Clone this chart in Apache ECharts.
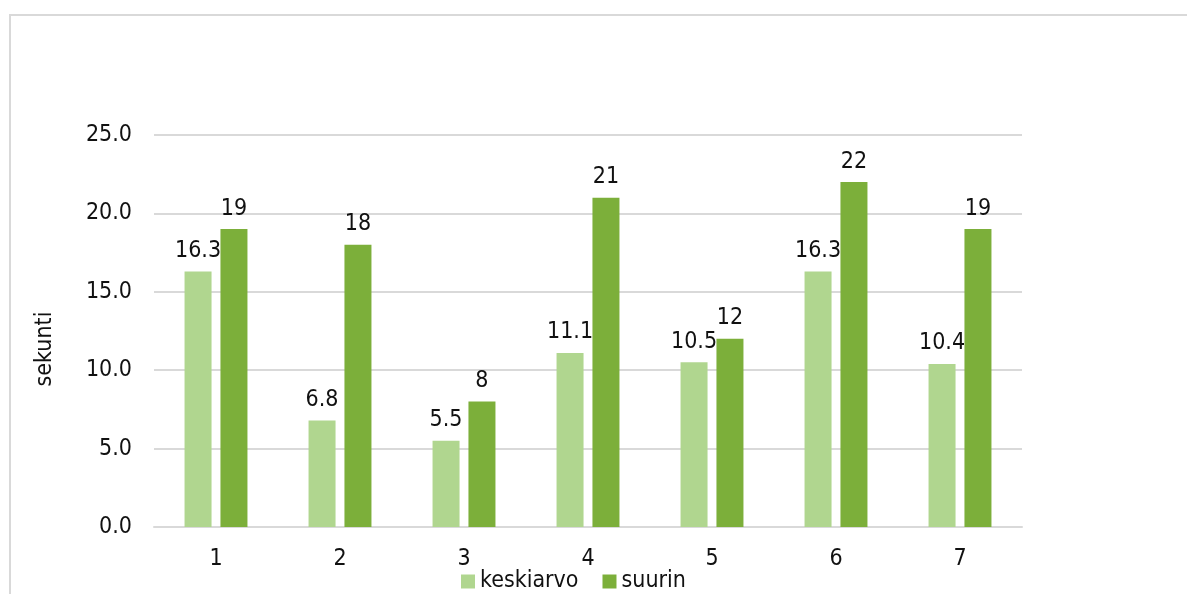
<!DOCTYPE html>
<html>
<head>
<meta charset="utf-8">
<script src="https://cdn.jsdelivr.net/npm/echarts@6/dist/echarts.min.js"></script>
<style>
  html, body { margin: 0; padding: 0; background: #fff; }
  #chart { width: 1187px; height: 594px; }
</style>
</head>
<body>
<div id="chart"></div>
<script>
// Categories and series values
const categories = ['1', '2', '3', '4', '5', '6', '7'];
const keskiarvo = [16.3, 6.8, 5.5, 11.1, 10.5, 16.3, 10.4];
const suurin = [19, 18, 8, 21, 12, 22, 19];
const seriesNames = ['keskiarvo', 'suurin'];
const axisName = 'sekunti';

const FONT = '"DejaVu Sans Condensed", "DejaVu Sans", sans-serif';
const FS = 23;
const chart = echarts.init(document.getElementById('chart'), null, { renderer: 'canvas' });

chart.setOption({
  animation: false,
  textStyle: { fontFamily: FONT },
  graphic: [{
    type: 'rect',
    shape: { x: 10, y: 15, width: 1200, height: 600 },
    style: { fill: 'none', stroke: '#d9d9d9', lineWidth: 2 },
    silent: true
  }],
  grid: { left: 154, right: 165, top: 135, bottom: 67, containLabel: false },
  legend: {
    bottom: -4,
    left: 456,
    itemWidth: 14,
    itemHeight: 14,
    itemGap: 24,
    icon: 'rect',
    textStyle: { fontFamily: FONT, fontSize: FS, color: '#111' },
    data: seriesNames
  },
  xAxis: {
    type: 'category',
    data: categories,
    axisLine: { show: true, lineStyle: { color: '#d9d9d9', width: 2 } },
    axisTick: { show: false },
    axisLabel: { fontFamily: FONT, fontSize: FS, color: '#111', margin: 21 }
  },
  yAxis: {
    type: 'value',
    min: 0,
    max: 25,
    interval: 5,
    name: axisName,
    nameLocation: 'middle',
    nameGap: 97,
    nameTextStyle: { fontFamily: FONT, fontSize: FS, color: '#111', padding: [0, 36, 0, 0] },
    axisLine: { show: false },
    axisTick: { show: false },
    splitLine: { lineStyle: { color: '#d9d9d9', width: 2 } },
    axisLabel: {
      fontFamily: FONT, fontSize: FS, color: '#111', margin: 22,
      formatter: v => v.toFixed(1)
    }
  },
  series: [
    {
      name: seriesNames[0],
      type: 'bar',
      data: keskiarvo,
      barWidth: 27,
      barGap: '33%',
      itemStyle: { color: '#b0d68f' },
      label: { show: true, position: 'top', distance: 9, fontFamily: FONT, fontSize: FS, color: '#111' }
    },
    {
      name: seriesNames[1],
      type: 'bar',
      data: suurin,
      barWidth: 27,
      barGap: '33%',
      itemStyle: { color: '#7caf3a' },
      label: { show: true, position: 'top', distance: 9, fontFamily: FONT, fontSize: FS, color: '#111' }
    }
  ]
});
</script>
</body>
</html>
